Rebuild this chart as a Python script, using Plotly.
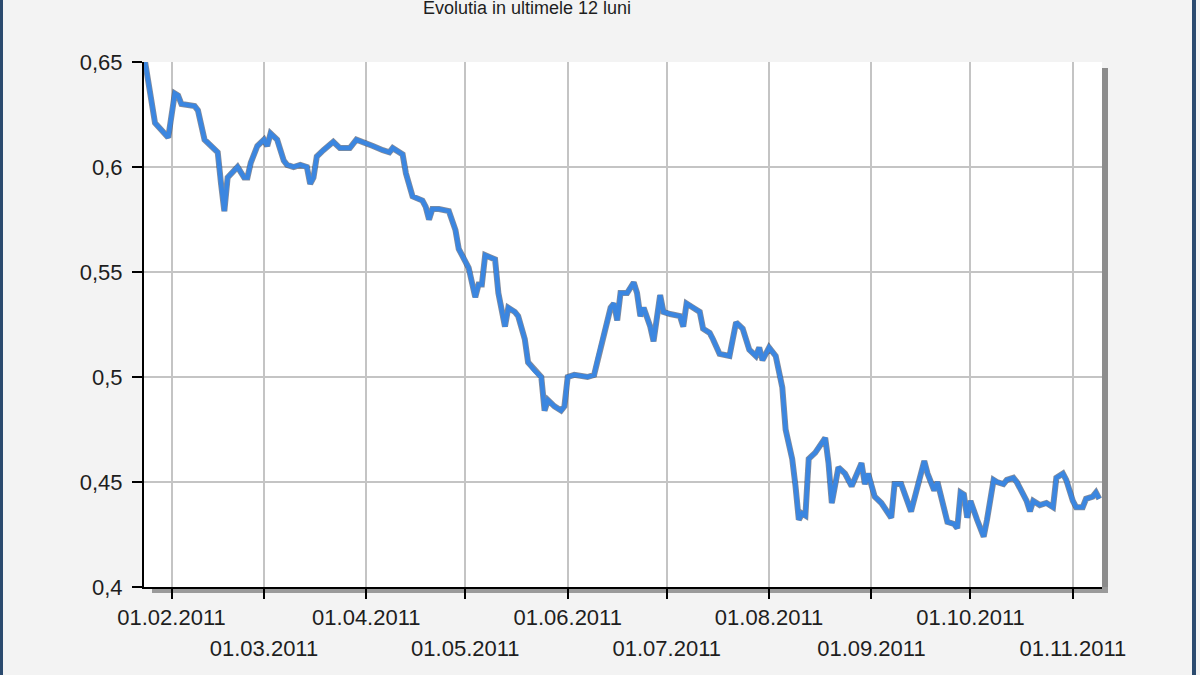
import plotly.graph_objects as go

# values
dates = [
    "2011-01-24", "2011-01-27", "2011-01-31", "2011-02-02", "2011-02-03", "2011-02-04",
    "2011-02-08", "2011-02-09", "2011-02-11", "2011-02-14", "2011-02-15", "2011-02-16",
    "2011-02-17", "2011-02-18", "2011-02-21", "2011-02-23", "2011-02-24", "2011-02-25",
    "2011-02-27", "2011-03-01", "2011-03-02", "2011-03-03", "2011-03-05", "2011-03-07",
    "2011-03-08", "2011-03-10", "2011-03-12", "2011-03-14", "2011-03-15", "2011-03-16",
    "2011-03-17", "2011-03-19", "2011-03-22", "2011-03-24", "2011-03-27", "2011-03-29",
    "2011-03-31", "2011-04-03", "2011-04-06", "2011-04-08", "2011-04-09", "2011-04-11",
    "2011-04-12", "2011-04-13", "2011-04-15", "2011-04-18", "2011-04-19", "2011-04-20",
    "2011-04-21", "2011-04-23", "2011-04-26", "2011-04-28", "2011-04-29", "2011-05-02",
    "2011-05-04", "2011-05-05", "2011-05-06", "2011-05-07", "2011-05-09", "2011-05-10",
    "2011-05-11", "2011-05-13", "2011-05-14", "2011-05-16", "2011-05-17", "2011-05-19",
    "2011-05-20", "2011-05-22", "2011-05-24", "2011-05-25", "2011-05-26", "2011-05-28",
    "2011-05-30", "2011-05-31", "2011-06-01", "2011-06-03", "2011-06-07", "2011-06-09",
    "2011-06-10", "2011-06-14", "2011-06-15", "2011-06-16", "2011-06-17", "2011-06-19",
    "2011-06-21", "2011-06-22", "2011-06-23", "2011-06-24", "2011-06-26", "2011-06-27",
    "2011-06-29", "2011-06-30", "2011-07-02", "2011-07-05", "2011-07-06", "2011-07-07",
    "2011-07-09", "2011-07-11", "2011-07-12", "2011-07-14", "2011-07-15", "2011-07-17",
    "2011-07-20", "2011-07-22", "2011-07-24", "2011-07-26", "2011-07-28", "2011-07-29",
    "2011-07-30", "2011-08-01", "2011-08-03", "2011-08-05", "2011-08-06", "2011-08-08",
    "2011-08-09", "2011-08-10", "2011-08-11", "2011-08-12", "2011-08-13", "2011-08-15",
    "2011-08-18", "2011-08-19", "2011-08-20", "2011-08-21", "2011-08-22", "2011-08-24",
    "2011-08-26", "2011-08-29", "2011-08-30", "2011-08-31", "2011-09-02", "2011-09-04",
    "2011-09-07", "2011-09-08", "2011-09-10", "2011-09-13", "2011-09-15", "2011-09-17",
    "2011-09-18", "2011-09-20", "2011-09-21", "2011-09-22", "2011-09-24", "2011-09-26",
    "2011-09-27", "2011-09-28", "2011-09-29", "2011-09-30", "2011-10-01", "2011-10-03",
    "2011-10-05", "2011-10-06", "2011-10-08", "2011-10-09", "2011-10-11", "2011-10-12",
    "2011-10-14", "2011-10-15", "2011-10-18", "2011-10-19", "2011-10-20", "2011-10-22",
    "2011-10-24", "2011-10-26", "2011-10-27", "2011-10-29", "2011-10-30", "2011-11-01",
    "2011-11-02", "2011-11-04", "2011-11-05", "2011-11-07", "2011-11-08", "2011-11-09",
]
values = [
    0.650, 0.621, 0.614, 0.635, 0.634, 0.630,
    0.629, 0.627, 0.613, 0.609, 0.607, 0.592,
    0.579, 0.595, 0.600, 0.595, 0.595, 0.602,
    0.610, 0.613, 0.610, 0.616, 0.613, 0.603,
    0.601, 0.600, 0.601, 0.600, 0.592, 0.595,
    0.605, 0.608, 0.612, 0.609, 0.609, 0.613,
    0.612, 0.610, 0.608, 0.607, 0.609, 0.607,
    0.606, 0.597, 0.586, 0.584, 0.581, 0.575,
    0.580, 0.580, 0.579, 0.570, 0.561, 0.552,
    0.538, 0.544, 0.544, 0.558, 0.557, 0.556,
    0.540, 0.524, 0.533, 0.531, 0.529, 0.518,
    0.507, 0.503, 0.500, 0.484, 0.489, 0.486,
    0.484, 0.486, 0.500, 0.501, 0.500, 0.501,
    0.508, 0.533, 0.535, 0.527, 0.540, 0.540,
    0.545, 0.540, 0.529, 0.533, 0.524, 0.517,
    0.539, 0.531, 0.530, 0.529, 0.524, 0.535,
    0.533, 0.531, 0.523, 0.521, 0.518, 0.511,
    0.510, 0.526, 0.523, 0.513, 0.510, 0.514,
    0.508, 0.514, 0.510, 0.495, 0.475, 0.461,
    0.448, 0.432, 0.435, 0.434, 0.461, 0.464,
    0.471, 0.459, 0.440, 0.448, 0.457, 0.454,
    0.448, 0.459, 0.449, 0.454, 0.443, 0.440,
    0.433, 0.449, 0.449, 0.436, 0.449, 0.460,
    0.454, 0.446, 0.450, 0.443, 0.431, 0.430,
    0.428, 0.445, 0.444, 0.433, 0.441, 0.432,
    0.424, 0.432, 0.451, 0.450, 0.449, 0.451,
    0.452, 0.450, 0.441, 0.436, 0.441, 0.439,
    0.440, 0.438, 0.452, 0.454, 0.451, 0.441,
    0.438, 0.438, 0.442, 0.443, 0.445, 0.442,
]
assert len(dates) == len(values)

# month ticks, labels alternate between two rows
ticks_row1 = ["2011-02-01", "2011-04-01", "2011-06-01", "2011-08-01", "2011-10-01"]
labels_row1 = ["01.02.2011", "01.04.2011", "01.06.2011", "01.08.2011", "01.10.2011"]
ticks_row2 = ["2011-03-01", "2011-05-01", "2011-07-01", "2011-09-01", "2011-11-01"]
labels_row2 = ["01.03.2011", "01.05.2011", "01.07.2011", "01.09.2011", "01.11.2011"]
title_text = "Evolutia in ultimele 12 luni"

FONT = "Liberation Sans, Arial, sans-serif"
x_range = ["2011-01-23 16:00", "2011-11-09 20:00"]

# plot area in pixels: left 144, right 1102, top 62, bottom 587
PL, PR, PT, PB = 144, 1102, 62, 587


def px(x):
    return (x - PL) / (PR - PL)


def py(y):
    return (PB - y) / (PB - PT)


all_ticks = sorted(ticks_row1 + ticks_row2)
all_text = [labels_row1[ticks_row1.index(t)] if t in ticks_row1 else "" for t in all_ticks]

fig = go.Figure()
fig.add_trace(go.Scatter(
    x=dates, y=values, mode="lines",
    line=dict(color="rgba(35,45,70,0.55)", width=6),
    hoverinfo="skip", showlegend=False,
))
fig.add_trace(go.Scatter(
    x=dates, y=values, mode="lines",
    line=dict(color="#3b86e0", width=4.5),
    showlegend=False,
))
# carrier for the second label row
fig.add_trace(go.Scatter(
    x=dates, y=values, mode="lines", xaxis="x2",
    line=dict(width=0), opacity=0, hoverinfo="skip", showlegend=False,
))

shapes = [
    # drop shadow of the plot area
    dict(type="rect", xref="paper", yref="paper", x0=px(PR), x1=px(PR + 6),
         y0=py(PB + 6), y1=py(PT + 6), fillcolor="#8c8c8c", line_width=0, layer="below"),
    dict(type="rect", xref="paper", yref="paper", x0=px(PL + 8), x1=px(PR + 6),
         y0=py(PB + 6), y1=py(PB), fillcolor="#9a9a9a", line_width=0, layer="below"),
    # window frame edges
    dict(type="rect", xref="paper", yref="paper", x0=px(0), x1=px(3),
         y0=py(675), y1=py(0), fillcolor="#2b4a6e", line_width=0, layer="below"),
    dict(type="rect", xref="paper", yref="paper", x0=px(1192), x1=px(1196),
         y0=py(675), y1=py(0), fillcolor="#2b4a6e", line_width=0, layer="below"),
]

fig.update_layout(
    width=1200, height=675,
    margin=dict(l=PL, r=1200 - PR, t=PT, b=675 - PB, autoexpand=False),
    paper_bgcolor="#f3f3f3",
    plot_bgcolor="#ffffff",
    separators=",.",
    font=dict(family=FONT, size=22, color="#1e1e1e"),
    shapes=shapes,
    xaxis=dict(
        type="date", range=x_range,
        tickvals=all_ticks, ticktext=all_text,
        ticks="outside", ticklen=10, tickwidth=2, tickcolor="#000000",
        showline=True, linecolor="#000000", linewidth=2,
        showgrid=True, gridcolor="#c4c4c4", gridwidth=2,
        zeroline=False, tickangle=0,
    ),
    xaxis2=dict(
        type="date", range=x_range, overlaying="x", anchor="y", side="bottom",
        tickvals=ticks_row2, ticktext=labels_row2,
        ticks="", showline=False, showgrid=False, zeroline=False,
        ticklabelstandoff=46, tickangle=0,
    ),
    yaxis=dict(
        range=[0.4, 0.65], dtick=0.05, tick0=0.4,
        ticks="outside", ticklen=10, tickwidth=2, tickcolor="#000000",
        showline=True, linecolor="#000000", linewidth=2,
        showgrid=True, gridcolor="#c4c4c4", gridwidth=2,
        zeroline=False, ticklabelstandoff=5,
    ),
    annotations=[dict(
        text=title_text, xref="paper", yref="paper",
        x=px(527), y=py(20), xanchor="center", yanchor="bottom",
        showarrow=False, font=dict(family=FONT, size=18, color="#1e1e1e"),
    )],
)

fig.write_html("out.html", config={"displayModeBar": False},
               post_script="document.body.style.margin='0';")
